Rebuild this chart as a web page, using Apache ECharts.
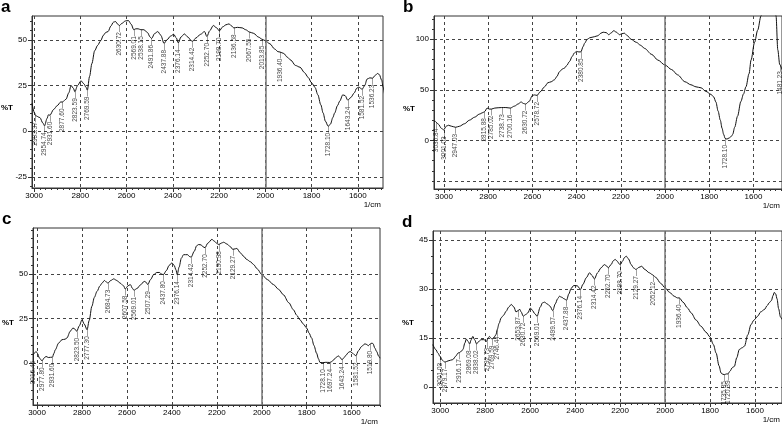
<!DOCTYPE html>
<html>
<head>
<meta charset="utf-8">
<script src="https://cdn.jsdelivr.net/npm/echarts@6/dist/echarts.min.js"></script>
<style>
html, body { margin: 0; padding: 0; background: #fff; }
#chart { width: 782px; height: 426px; }
</style>
</head>
<body>
<div id="chart"></div>
<script>
// spectra, [wavenumber 1/cm, %T]
const spectrumA = [
  [3009, 15.3], [2998, 10], [2993.37, 8.5], [2975, 7.5], [2962, 4.5], [2954.74, 3], [2944, 7], [2938, 9],
  [2931.6, 8.8], [2915, 12], [2900, 14], [2885, 16], [2877.6, 16], [2862, 17.5], [2850, 21], [2840, 25],
  [2830, 23.5], [2823.59, 21.6], [2812, 25], [2797, 27.6], [2785, 26], [2775, 24], [2769.59, 22.5],
  [2760, 30], [2750, 37], [2738, 44], [2725, 47], [2712, 49.5], [2700, 52.5], [2690, 54], [2680, 54.5],
  [2668, 57.5], [2657, 59.6], [2648, 60], [2638, 58.5], [2630.72, 57.8], [2620, 59], [2605, 60.3],
  [2592, 60.5], [2580, 58.5], [2569.01, 55.5], [2560, 56], [2550, 56], [2538.15, 55.5], [2525, 55.5],
  [2510, 54], [2498, 51.5], [2491.86, 50.7], [2478, 53.5], [2465, 54.5], [2452, 52.5], [2437.88, 48],
  [2425, 50], [2410, 52], [2396, 53], [2385, 51], [2376.14, 48.3], [2365, 51.5], [2350, 53.2], [2335, 51.5],
  [2320, 49.5], [2314.42, 49.2], [2300, 51], [2280, 53], [2263, 54.5], [2252.7, 51.8], [2240, 55],
  [2225, 57.8], [2210, 56.5], [2198.7, 54.8], [2185, 57], [2170, 58.2], [2157, 58.7], [2145, 57.5],
  [2136.58, 56.5], [2120, 56.8], [2100, 56.5], [2085, 55.5], [2067.55, 54.2], [2050, 53.5], [2030, 51.5],
  [2013.85, 50.3], [2000, 49.5], [1980, 47.8], [1960, 45], [1945, 43.5], [1936.4, 43.3], [1920, 42.5],
  [1905, 40.5], [1889, 38.8], [1870, 36], [1850, 35], [1830, 32], [1815, 29.5], [1800, 26.5], [1785, 24],
  [1773, 20], [1760, 14.5], [1750, 10], [1740, 5.5], [1728.1, 2.7], [1718, 4], [1708, 7.5], [1700, 10],
  [1688, 14], [1678, 16.5], [1665, 19.9], [1655, 19.5], [1643.24, 17], [1630, 18.5], [1615, 21],
  [1605, 23.5], [1595, 24.2], [1588, 23.5], [1581.52, 22.9], [1570, 25], [1560, 28.5], [1548, 29.2],
  [1536.23, 29], [1525, 30.5], [1515, 31.6], [1507, 31], [1497, 28], [1490, 24], [1483, 19]
];
const spectrumB = [
  [3045, 18.5], [3040, 19], [3035.84, 18], [3025, 16], [3012, 12], [3001.03, 10.5], [2990, 14],
  [2980, 15], [2965, 14], [2947.03, 13], [2930, 14], [2907, 16.5], [2885, 20], [2861, 23], [2840, 26],
  [2824, 27.5], [2815.88, 28.5], [2805, 32], [2795, 31], [2785.02, 31], [2770, 32], [2755, 32.3],
  [2738.73, 32.5], [2720, 32.5], [2700.16, 32], [2680, 34], [2665, 36], [2651, 38], [2640, 36.5],
  [2630.72, 36], [2615, 38.5], [2600, 44.5], [2590, 45], [2578.72, 44.5], [2565, 48], [2545, 53],
  [2530, 57], [2515, 58], [2500, 60], [2490, 63], [2477, 68], [2465, 70.5], [2455, 71.5], [2445, 74],
  [2432, 78], [2420, 83], [2410, 86.5], [2400, 88], [2390, 87.5], [2380.85, 87.5], [2370, 93], [2364, 96],
  [2352, 100], [2340, 101.5], [2320, 102.5], [2304, 103.5], [2290, 106], [2280, 107], [2265, 106.5],
  [2255, 104.5], [2245, 106], [2232, 108.5], [2220, 107], [2206, 104.5], [2195, 105.5], [2184, 106],
  [2170, 103.5], [2154, 100], [2130, 97], [2110, 94], [2093, 91], [2060, 85], [2033, 79.5], [2000, 74.5],
  [1970, 70], [1943, 64.8], [1910, 58], [1883, 55], [1860, 53], [1837, 52], [1815, 48.5], [1792, 45.5],
  [1780, 43], [1770, 38], [1760, 29], [1750, 20], [1742, 12], [1735, 6], [1728.1, 2], [1720, 1.3],
  [1710, 2.5], [1700, 4], [1694, 6], [1685, 13], [1672, 24], [1657, 38.5], [1645, 46], [1634, 53],
  [1620, 66], [1611, 79.5], [1595, 97], [1581, 109], [1566, 123], [1550, 140], [1520, 145], [1505, 135],
  [1498, 123], [1490, 89.5], [1481.23, 75], [1471, 70]
];
const spectrumC = [
  [3018, 4.7], [3016.46, 5], [3010, 5.8], [3005, 6.6], [2998, 5.5], [2990, 3], [2977.8, 1.3], [2968, 3],
  [2960, 3.8], [2950, 3.2], [2940, 3.3], [2931.6, 3.4], [2925, 5.5], [2919, 7.5], [2904, 11.3],
  [2889, 13.2], [2875, 13.5], [2867, 14.2], [2852, 18], [2840, 19.8], [2830, 19], [2823.5, 17.9],
  [2812, 21], [2800, 24.4], [2790, 22], [2777.3, 18.8], [2768, 24], [2756, 32], [2745, 37], [2733, 40.4],
  [2720, 43.5], [2711, 45], [2700, 46.5], [2690, 45.5], [2684.73, 45], [2672, 46.5], [2659, 47.4],
  [2645, 46.5], [2630, 45], [2615, 43.5], [2607.58, 41.7], [2595, 43.5], [2585, 44.2], [2575, 42],
  [2569.01, 41], [2555, 42], [2540, 44], [2523, 46], [2515, 45.5], [2507.29, 44.2], [2495, 47],
  [2481, 49.8], [2467, 51], [2455, 51], [2445, 50], [2437.8, 49.8], [2425, 52], [2412, 55], [2400, 56.4],
  [2390, 55], [2382, 52.5], [2376.14, 49.8], [2368, 54], [2358, 59], [2348, 61], [2330, 61], [2322, 60],
  [2314.42, 59.6], [2300, 63], [2290, 66], [2281, 66.7], [2270, 66.5], [2262, 65.5], [2252.7, 64.9],
  [2240, 67.5], [2222, 69.6], [2210, 68.5], [2200, 67.3], [2190.98, 66.7], [2180, 67.5], [2170, 68],
  [2155, 67], [2140, 65.5], [2129.27, 64], [2118, 64.3], [2111, 64.5], [2095, 62], [2080, 60],
  [2067, 58.3], [2050, 57], [2037, 55.5], [2020, 53], [2000, 49.8], [1975, 47], [1948, 44.2],
  [1925, 41.5], [1904, 38.5], [1880, 34], [1859, 30], [1845, 27], [1830, 24.4], [1815, 22], [1800, 19.7],
  [1790, 17], [1778, 14.1], [1768, 10], [1756, 5.6], [1748, 2.5], [1741, 0.4], [1728.1, 0.3],
  [1715, 0.5], [1697.24, 0.4], [1689, 0.9], [1675, 2.5], [1667, 3.5], [1659, 4.1], [1650, 3],
  [1643.24, 1.9], [1635, 3], [1625, 4.5], [1615, 6], [1607, 6.6], [1598, 5.8], [1588, 4.8],
  [1581.52, 4.1], [1570, 7], [1556, 9.4], [1541, 10.9], [1533, 10.5], [1526, 9.8], [1519.8, 10.6],
  [1510, 11.3], [1505, 11], [1497, 8.5], [1489, 6.6], [1480, 4], [1474, 2.8]
];
const spectrumD = [
  [3033, 13], [3020, 11.5], [3010, 10.4], [3001.03, 9.4], [2990, 8.2], [2979.17, 7.6], [2965, 8],
  [2944, 8.4], [2930, 9.5], [2921, 10.4], [2916.17, 10.5], [2905, 11], [2899, 11.5], [2890, 13.5],
  [2884, 14.7], [2876, 14], [2869.08, 13.2], [2862, 14.5], [2855, 15.5], [2847, 14.5], [2838.02, 13.2],
  [2828, 14], [2818, 14.5], [2806, 14.5], [2792.73, 14], [2788, 15], [2781, 15.5], [2775, 15],
  [2769.59, 14.7], [2760, 15.3], [2752, 16], [2746.44, 17.6], [2738, 19.5], [2729, 21.2], [2718, 22],
  [2707, 23.2], [2695, 24.5], [2684, 25.3], [2672, 24.5], [2663, 23], [2653.87, 23.4], [2646, 23.8],
  [2640, 23], [2630.72, 21.7], [2620, 22.2], [2610, 22.7], [2599, 24.2], [2590, 23.5], [2580, 22.5],
  [2569.01, 21.7], [2555, 24.5], [2545, 25.8], [2536, 26], [2525, 25.5], [2512, 24.8], [2499.57, 23.4],
  [2488, 25.5], [2478, 27], [2470, 27.8], [2460, 27.5], [2448, 27], [2437.88, 26.6], [2428, 28.5],
  [2418, 30.2], [2406, 31.1], [2390, 31], [2380, 30.2], [2376.14, 29.9], [2365, 31.5], [2350, 33.5],
  [2336, 35], [2325, 34.2], [2314.42, 33.1], [2300, 35], [2285, 36.5], [2270, 37.5], [2258, 37],
  [2252.7, 36.5], [2240, 37.5], [2230, 38.7], [2222, 39.1], [2212, 38.5], [2204, 37.7], [2198.7, 37.5],
  [2190, 38.5], [2180, 39.7], [2173, 40.1], [2162, 39.2], [2151, 37.5], [2140, 36.5], [2129.27, 36],
  [2118, 36.6], [2104, 37], [2090, 36], [2070, 35], [2058, 34.5], [2052.12, 34.2], [2040, 33.5],
  [2020, 31.8], [2000, 30.4], [1980, 29], [1959, 27.8], [1945, 27.3], [1936.4, 27.3], [1920, 26],
  [1900, 24.2], [1884, 22.7], [1862, 20.5], [1840, 18.6], [1818, 16.8], [1800, 15.3], [1785, 13],
  [1773, 10.4], [1760, 6.5], [1751, 4.3], [1743, 3.9], [1735.85, 3.8], [1727, 4], [1720.39, 4],
  [1712, 4.8], [1700, 6], [1692, 6.3], [1681, 9], [1670, 11.5], [1658, 12], [1647, 12.5], [1632, 16],
  [1618, 19.1], [1605, 20.5], [1588, 21.7], [1575, 23], [1559, 23.7], [1545, 25], [1537, 25.8],
  [1527, 26.5], [1520, 28], [1514, 29], [1508, 28.5], [1502, 27], [1495, 24], [1487, 21.5], [1480, 20.7]
];

// labelled peaks (wavenumbers)
const peaksA = [2993.37, 2954.74, 2931.6, 2877.6, 2823.59, 2769.59, 2630.72, 2569.01, 2538.15, 2491.86,
  2437.88, 2376.14, 2314.42, 2252.7, 2198.7, 2136.58, 2067.55, 2013.85, 1936.4, 1728.1, 1643.24,
  1581.52, 1536.23];
const peaksB = [3035.84, 3001.03, 2947.03, 2815.88, 2785.02, 2738.73, 2700.16, 2630.72, 2578.72,
  2380.85, 1728.1, 1481.23];
const peaksC = [3016.46, 2977.8, 2931.6, 2823.5, 2777.3, 2684.73, 2607.58, 2569.01, 2507.29, 2437.8,
  2376.14, 2314.42, 2252.7, 2190.98, 2129.27, 1728.1, 1697.24, 1643.24, 1581.52, 1519.8];
const peaksD = [3001.03, 2979.17, 2916.17, 2869.08, 2838.02, 2792.73, 2769.59, 2746.44, 2653.87,
  2630.72, 2569.01, 2499.57, 2437.88, 2376.14, 2314.42, 2252.7, 2198.7, 2129.27, 2052.12, 1936.4,
  1735.85, 1720.39];

// tick labels
const xTicks = [3000, 2800, 2600, 2400, 2200, 2000, 1800, 1600];
const yTicksA = [-25, 0, 25, 50];
const yTicksB = [0, 50, 100];
const yTicksC = [0, 25, 50];
const yTicksD = [0, 15, 30, 45];

// layout of the four plots
const panels = [
  { name: 'a', data: spectrumA, peaks: peaksA, yTicks: yTicksA, yMinorStep: 5,
    rect: { left: 32, top: 16, width: 351, height: 172 }, x: [1491, 3009], y: [-31, 63] },
  { name: 'b', data: spectrumB, peaks: peaksB, yTicks: yTicksB, yMinorStep: 10,
    rect: { left: 434, top: 16, width: 350, height: 173 }, x: [1471, 3045], y: [-48, 123], extraY: -40 },
  { name: 'c', data: spectrumC, peaks: peaksC, yTicks: yTicksC, yMinorStep: 5,
    rect: { left: 33, top: 228, width: 347, height: 177 }, x: [1474, 3018], y: [-23.5, 76] },
  { name: 'd', data: spectrumD, peaks: peaksD, yTicks: yTicksD, yMinorStep: 5,
    rect: { left: 433, top: 231, width: 351, height: 172 }, x: [1480, 3032], y: [-4.9, 47.8] }
];

const FONT = 'Liberation Sans, Arial, sans-serif';
const AXIS_COLOR = '#333';

const stepValues = (lo, hi, step) => {
  const out = [];
  for (let v = Math.ceil(lo / step) * step; v <= hi; v += step) out.push(v);
  return out;
};

const grids = [], xAxes = [], yAxes = [], series = [], graphics = [];

panels.forEach((p, i) => {
  grids.push({ ...p.rect, show: true, borderColor: AXIS_COLOR, borderWidth: 1 });

  // main x axis
  xAxes.push({
    type: 'value', gridIndex: i, inverse: true, min: p.x[0], max: p.x[1], position: 'bottom',
    axisLine: { show: true, onZero: false, lineStyle: { color: AXIS_COLOR } },
    axisTick: { show: true, customValues: xTicks, length: 4, lineStyle: { color: AXIS_COLOR } },
    axisLabel: { customValues: xTicks, formatter: v => String(v), fontSize: 8, fontFamily: FONT, color: '#000', margin: 4 },
    splitLine: { show: true, lineStyle: { color: '#444', type: [3, 3], width: 1 } }
  });
  // minor x ticks
  xAxes.push({
    type: 'value', gridIndex: i, inverse: true, min: p.x[0], max: p.x[1], position: 'bottom',
    axisLine: { show: false, onZero: false },
    axisTick: { show: true, customValues: stepValues(p.x[0], p.x[1], 25), length: 2, lineStyle: { color: AXIS_COLOR } },
    axisLabel: { show: false }, splitLine: { show: false }
  });
  // main y axis
  yAxes.push({
    type: 'value', gridIndex: i, min: p.y[0], max: p.y[1], position: 'left',
    axisLine: { show: true, onZero: false, lineStyle: { color: AXIS_COLOR } },
    axisTick: { show: true, customValues: p.yTicks, length: 4, lineStyle: { color: AXIS_COLOR } },
    axisLabel: { customValues: p.yTicks, formatter: v => String(v), fontSize: 8, fontFamily: FONT, color: '#000', margin: 5 },
    splitLine: { show: true, lineStyle: { color: '#444', type: [3, 3], width: 1 } }
  });
  // minor y ticks
  yAxes.push({
    type: 'value', gridIndex: i, min: p.y[0], max: p.y[1], position: 'left',
    axisLine: { show: false, onZero: false },
    axisTick: { show: true, customValues: stepValues(p.y[0], p.y[1], p.yMinorStep), length: 2, lineStyle: { color: AXIS_COLOR } },
    axisLabel: { show: false }, splitLine: { show: false }
  });

  const markData = [{ xAxis: 2000 }];
  if (p.extraY !== undefined) {
    markData.push({ yAxis: p.extraY, lineStyle: { type: [3, 3], color: '#444', width: 1 } });
  }

  series.push({
    type: 'line', xAxisIndex: i * 2, yAxisIndex: i * 2, data: p.data,
    showSymbol: false, smooth: 0.3, smoothMonotone: 'x', animation: false,
    lineStyle: { color: '#111', width: 1 },
    markLine: {
      silent: true, symbol: ['none', 'none'], label: { show: false }, animation: false,
      lineStyle: { color: '#777', type: 'solid', width: 1.5 },
      data: markData
    }
  });

  series.push({
    type: 'scatter', xAxisIndex: i * 2, yAxisIndex: i * 2, animation: false, silent: true,
    symbol: 'circle', symbolSize: 1, itemStyle: { color: 'transparent' },
    data: p.peaks.map(w => p.data.find(d => d[0] === w)),
    label: {
      show: true, position: 'inside', rotate: 90, align: 'right', verticalAlign: 'middle',
      fontSize: 6.5, fontFamily: FONT, color: '#111',
      formatter: prm => prm.value[0].toFixed(2) + '\u2014'
    }
  });

  // panel letter, y title, x unit
  graphics.push({
    type: 'text', left: p.rect.left - 31, top: p.rect.top - 17,
    style: { text: p.name, font: 'bold 17px ' + FONT, fill: '#000' }
  });
  graphics.push({
    type: 'text', left: p.rect.left - 31, top: p.rect.top + p.rect.height * 0.5 + 2,
    style: { text: '%T', font: 'bold 8px ' + FONT, fill: '#000' }
  });
  graphics.push({
    type: 'text', right: 782 - Math.min(p.rect.left + p.rect.width, 782) + 2, top: p.rect.top + p.rect.height + 13,
    style: { text: '1/cm', font: '8px ' + FONT, fill: '#000' }
  });
});

const chart = echarts.init(document.getElementById('chart'));
chart.setOption({
  backgroundColor: '#fff',
  animation: false,
  grid: grids,
  xAxis: xAxes,
  yAxis: yAxes,
  series: series,
  graphic: graphics
});
</script>
</body>
</html>
